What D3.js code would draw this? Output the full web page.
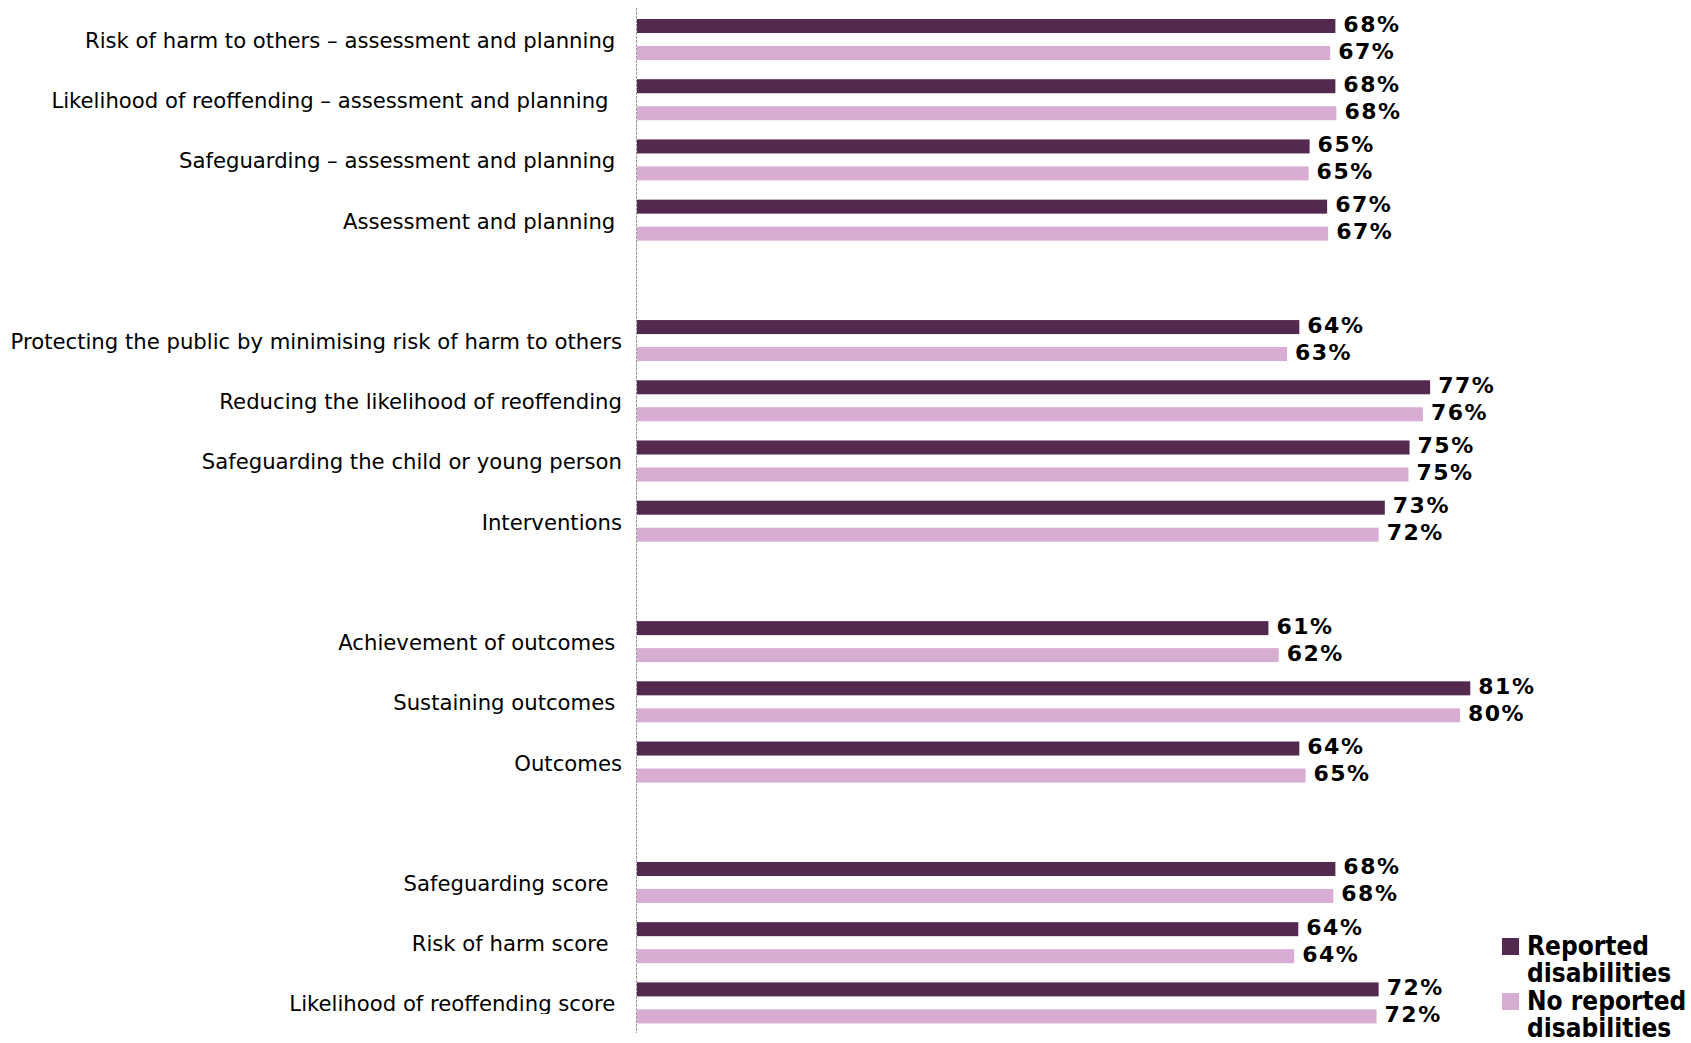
<!DOCTYPE html>
<html>
<head>
<meta charset="utf-8">
<script src="https://cdn.jsdelivr.net/npm/d3@7"></script>
<style>
  html, body { margin: 0; padding: 0; background: #ffffff; }
  svg { display: block; }
  .cat { font-family: "DejaVu Sans", sans-serif; font-size: 21.2px; fill: #000; white-space: pre; }
  .val { font-family: "DejaVu Sans", sans-serif; font-weight: bold; font-size: 22px; fill: #000; letter-spacing: 1.5px; }
  .leg { font-family: "DejaVu Sans Condensed", "DejaVu Sans", sans-serif; font-weight: bold; font-size: 26px; fill: #000; }
</style>
</head>
<body>
<svg id="chart" width="1691" height="1043"></svg>
<script>
// ---- data ----
const categories = [
  "Risk of harm to others \u2013 assessment and planning ",
  "Likelihood of reoffending \u2013 assessment and planning  ",
  "Safeguarding \u2013 assessment and planning ",
  "Assessment and planning ",
  "Protecting the public by minimising risk of harm to others",
  "Reducing the likelihood of reoffending",
  "Safeguarding the child or young person",
  "Interventions",
  "Achievement of outcomes ",
  "Sustaining outcomes ",
  "Outcomes",
  "Safeguarding score  ",
  "Risk of harm score  ",
  "Likelihood of reoffending score "
];
// index after which an empty slot separates groups
const groupEnds = [3, 7, 10];
const seriesNames = ["Reported disabilities", "No reported disabilities"];
// values (labels show them rounded)
const reported   = [67.9, 67.9, 65.4, 67.1, 64.4, 77.1, 75.1, 72.7, 61.4, 81.0, 64.4, 67.9, 64.3, 72.1];
const noReported = [67.4, 68.0, 65.3, 67.2, 63.2, 76.4, 75.0, 72.1, 62.4, 80.0, 65.0, 67.7, 63.9, 71.9];
const legendLines = [["Reported", "disabilities"], ["No reported", "disabilities"]];
const colors = ["#53294f", "#d8acd3"];

// ---- layout ----
const svg = d3.select("#chart");
const slots = [];
categories.forEach((c, i) => {
  slots.push("c" + i);
  if (groupEnds.includes(i)) slots.push("gap" + i);
});

const x = d3.scaleLinear().domain([0, 100]).range([636, 1666]);
const y = d3.scaleBand().domain(slots).range([9.4, 1033]).padding(0);
const bw = y.bandwidth();
const ySub = d3.scaleBand().domain(seriesNames).range([bw / 2 - 27, bw / 2 + 27]);
const barH = 14;
const fmt = v => Math.round(v) + "%";

const rows = categories.map((c, i) => ({
  cat: c, key: "c" + i, vals: [reported[i], noReported[i]]
}));

// axis line (category axis)
svg.append("line")
  .attr("x1", x(0) + 0.5).attr("x2", x(0) + 0.5)
  .attr("y1", y.range()[0] - 1.5).attr("y2", y.range()[1])
  .attr("stroke", "#9a9a9a").attr("stroke-width", 1)
  .attr("stroke-dasharray", "3,1");

// bars
const g = svg.append("g");
rows.forEach(r => {
  const top = y(r.key);
  seriesNames.forEach((s, j) => {
    const cy = top + ySub(s) + ySub.bandwidth() / 2;
    g.append("rect")
      .attr("x", x(0) + 1)
      .attr("y", cy - barH / 2)
      .attr("width", x(r.vals[j]) - x(0) - 1)
      .attr("height", barH)
      .attr("fill", colors[j]);
    g.append("text")
      .attr("class", "val")
      .attr("x", x(r.vals[j]) + 8)
      .attr("y", cy + 5.5)
      .text(fmt(r.vals[j]));
  });
});

// category labels (clipped at bottom like the original)
svg.append("clipPath").attr("id", "labclip")
  .append("rect").attr("x", 0).attr("y", 0).attr("width", 636).attr("height", 1014);
const lab = svg.append("g").attr("clip-path", "url(#labclip)");
rows.forEach(r => {
  lab.append("text")
    .attr("class", "cat")
    .attr("x", 622)
    .attr("y", y(r.key) + bw / 2 + 8.5)
    .attr("text-anchor", "end")
    .text(r.cat);
});

// legend
const leg = svg.append("g");
const legTops = [955, 1010];
seriesNames.forEach((s, j) => {
  leg.append("rect")
    .attr("x", 1502).attr("y", legTops[j] - 17)
    .attr("width", 17).attr("height", 17)
    .attr("fill", colors[j]);
  const t = leg.append("text").attr("class", "leg").attr("x", 1527).attr("y", legTops[j]);
  legendLines[j].forEach((line, k) => {
    t.append("tspan").attr("x", 1527).attr("dy", k === 0 ? 0 : 27).text(line);
  });
});
</script>
</body>
</html>
